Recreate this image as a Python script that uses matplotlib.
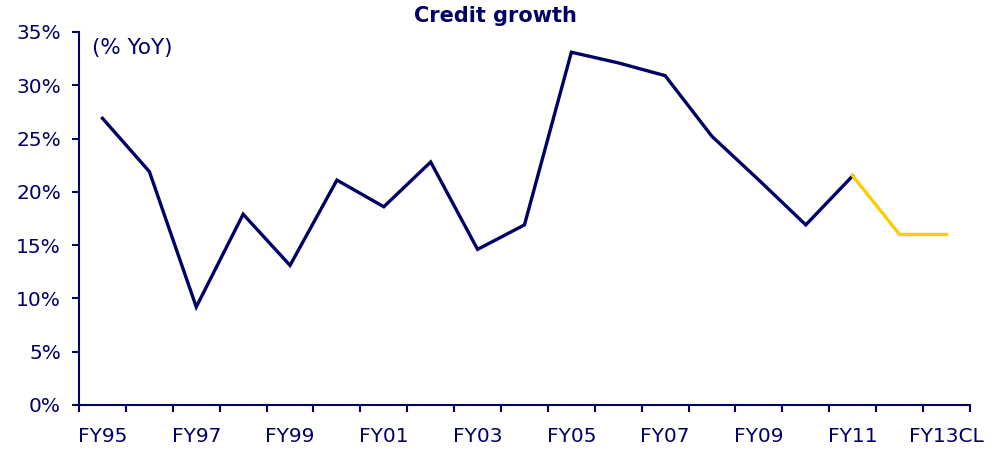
import matplotlib
matplotlib.use("Agg")
import matplotlib.pyplot as plt
from matplotlib.ticker import FixedLocator, FuncFormatter

years = ["FY95", "FY96", "FY97", "FY98", "FY99", "FY00", "FY01", "FY02", "FY03", "FY04",
         "FY05", "FY06", "FY07", "FY08", "FY09", "FY10", "FY11", "FY12", "FY13CL"]
actual = [26.9, 21.9, 9.2, 17.9, 13.1, 21.1, 18.6, 22.8, 14.6, 16.9,
          33.1, 32.1, 30.9, 25.2, 21.1, 16.9, 21.5]
forecast = [21.5, 16.0, 16.0]

navy = "#000066"
yellow = "#FFCC00"

fig = plt.figure(figsize=(10.03, 4.5), dpi=100)
ax = fig.add_axes([0.0788, 0.1, 0.8882, 0.829])

x_act = list(range(len(actual)))
x_fc = list(range(len(actual) - 1, len(actual) - 1 + len(forecast)))
ax.plot(x_act, actual, color=navy, lw=2.4, solid_joinstyle="miter")
ax.plot(x_fc, forecast, color=yellow, lw=2.4)

ax.set_xlim(-0.5, len(years) - 0.5)
ax.set_ylim(0, 35)
ax.set_yticks(range(0, 36, 5))
ax.yaxis.set_major_formatter(FuncFormatter(lambda v, p: f"{int(v)}%"))

ax.xaxis.set_major_locator(FixedLocator([i - 0.5 for i in range(len(years) + 1)]))
ax.xaxis.set_major_formatter(FuncFormatter(lambda v, p: ""))
ax.set_xticks(list(range(0, len(years), 2)), minor=True)
ax.set_xticklabels([years[i] for i in range(0, len(years), 2)], minor=True)
ax.tick_params(axis="x", which="minor", length=0, pad=16, labelsize=14.5, labelcolor=navy)
ax.tick_params(axis="x", which="major", length=5, width=1.5, color=navy, direction="out")
ax.tick_params(axis="y", length=5, width=1.5, color=navy, direction="out",
               labelsize=14.5, labelcolor=navy, pad=8)

for s in ["top", "right"]:
    ax.spines[s].set_visible(False)
for s in ["left", "bottom"]:
    ax.spines[s].set_color(navy)
    ax.spines[s].set_linewidth(1.5)

ax.text(0.015, 0.985, "(% YoY)", transform=ax.transAxes, color=navy, fontsize=15.5,
        va="top", ha="left")
fig.text(0.494, 0.965, "Credit growth", color=navy, fontsize=15, fontweight="bold",
         ha="center", va="center")

fig.savefig("out.png", dpi=100)
